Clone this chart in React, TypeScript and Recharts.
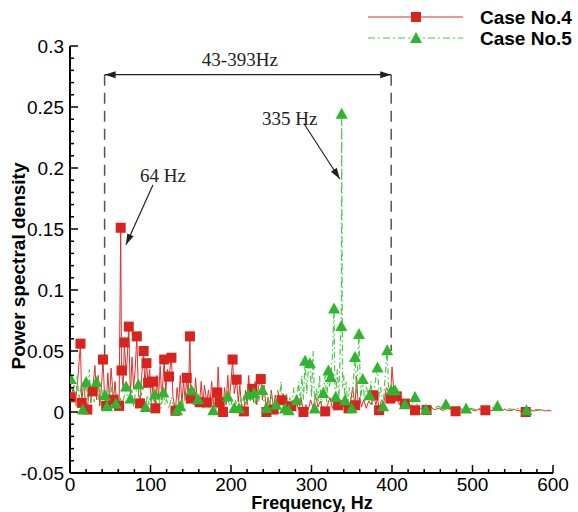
import React from 'react';
import { ComposedChart, Line, XAxis, YAxis, ReferenceLine, ReferenceDot } from 'recharts';

// Case No.4 spectrum (Hz, PSD)
const case4Freq = [
  1, 4, 7, 10, 13, 14.5, 17, 19, 21.5, 24, 26, 28, 31, 33, 35, 37, 39, 41, 43, 45,
  47, 49, 51, 54, 56, 58, 61, 63, 64, 66, 67.5, 70, 73, 75, 77, 79, 81, 83, 85, 87,
  89, 91.5, 93, 95, 97, 99, 101, 103.5, 106, 108, 110, 112, 114, 117, 119, 121, 123, 126, 128, 131,
  133, 135, 137, 139, 141, 143, 145, 147, 149, 150, 152, 154, 156, 158, 161, 163, 165, 167, 170, 172,
  174, 176, 178, 180, 183, 184, 186, 188, 190, 192, 194, 196, 198, 200, 202, 204, 207, 209, 211, 213,
  216, 218, 220, 222, 224, 226.5, 228, 230, 232, 234, 237, 239, 241, 244, 246, 248, 250, 253, 255, 257,
  259, 261, 263, 265, 267, 269, 271, 275, 277, 279, 281, 284, 287, 290, 293, 296, 299, 302, 305, 308,
  311, 314, 317, 320, 323, 326, 329, 333, 336, 339, 342, 346, 349, 351, 354, 356, 358, 360, 362, 365,
  368, 371, 374, 377, 380, 382, 384, 387, 390, 393, 395, 398, 400, 403, 406, 409, 412, 416, 420, 424,
  428.6, 433, 438, 443, 448, 453, 458, 463, 468, 474, 479, 485, 490, 496, 502, 508, 516, 522, 528, 534,
  540, 546, 552, 558, 566, 572, 578, 584, 590, 598,
];
const case4Psd = [
  0.012, 0.02, 0.008, 0.03, 0.056, 0.0075, 0.025, 0.01, 0.002, 0.02, 0.008, 0.017, 0.038, 0.01, 0.03, 0.005, 0.02, 0.043, 0.012, 0.005,
  0.032, 0.01, 0.036, 0.01, 0.025, 0.004, 0.005, 0.151, 0.034, 0.02, 0.057, 0.03, 0.07, 0.012, 0.045, 0.02, 0.035, 0.062, 0.015, 0.007,
  0.03, 0.05, 0.02, 0.04, 0.024, 0.035, 0.008, 0.025, 0.003, 0.03, 0.012, 0.038, 0.01, 0.043, 0.015, 0.035, 0.029, 0.0445, 0.012, 0.001,
  0.02, 0.008, 0.03, 0.006, 0.025, 0.01, 0.028, 0.012, 0.062, 0.011, 0.02, 0.006, 0.028, 0.01, 0.008, 0.025, 0.005, 0.022, 0.0078, 0.018,
  0.006, 0.025, 0.004, 0.02, 0.016, 0.037, 0.008, 0.015, 0.0, 0.02, 0.006, 0.03, 0.01, 0.025, 0.043, 0.015, 0.0265, 0.008, 0.022, 0.005,
  0.0005, 0.018, 0.006, 0.03, 0.01, 0.019, 0.008, 0.025, 0.006, 0.02, 0.027, 0.01, 0.022, 0.0, 0.012, 0.004, 0.018, 0.002, 0.014, 0.004,
  0.016, 0.006, 0.0096, 0.015, 0.003, 0.012, 0.005, 0.0047, 0.01, 0.003, 0.008, 0.002, 0.012, 0.0, 0.006, 0.002, 0.01, 0.003, 0.014, 0.004,
  0.009, 0.002, 0.0005, 0.006, 0.012, 0.003, 0.008, 0.0055, 0.01, 0.004, 0.008, 0.003, 0.01, 0.02, 0.0055, 0.029, 0.006, 0.012, 0.004, 0.01,
  0.003, 0.009, 0.006, 0.0137, 0.006, 0.012, 0.0015, 0.01, 0.008, 0.02, 0.018, 0.011, 0.037, 0.01, 0.0128, 0.006, 0.01, 0.0069, 0.004, 0.006,
  0.0014, 0.004, 0.002, 0.0016, 0.004, 0.002, 0.003, 0.001, 0.003, 0.002, 0.0006, 0.002, 0.001, 0.003, 0.001, 0.002, 0.0014, 0.001, 0.002, 0.001,
  0.002, 0.001, 0.002, 0.001, 0.0, 0.001, 0.001, 0.002, 0.001, 0.001,
];
const case4Markers = [
  1, 13, 14.5, 21.5, 28, 41, 45, 54, 61, 63, 64, 67.5, 73, 83, 87, 91.5, 95, 97, 103.5, 106,
  117, 123, 126, 131, 145, 149, 150, 161, 170, 183, 186, 190, 202, 207, 216, 226.5, 237, 244, 253, 263,
  275, 290, 317, 333, 346, 354, 377, 384, 398, 406, 416, 428.6, 443, 479, 516, 566,
];

// Case No.5 spectrum (Hz, PSD)
const case5Freq = [
  1, 3, 5, 7, 9, 11, 13, 16, 18, 20, 22, 24, 26, 28, 30, 33, 35, 37, 39, 41,
  43.5, 46, 48, 50, 52, 54, 57, 59, 61, 63, 66, 69.6, 72, 75, 77, 79, 81, 85, 87, 89,
  91, 94, 96, 98, 100, 102, 105.6, 108, 110, 113, 116, 118, 120, 123, 126, 129, 133, 135, 137, 139,
  141, 143, 145, 147, 151, 153, 155, 159, 161, 163, 165, 167, 169, 171, 173, 175, 178, 180, 182, 184,
  186, 188, 190, 192, 196, 198, 200, 202, 204, 206, 208, 210, 212, 214, 216, 218, 221.5, 224, 226, 228.6,
  230, 232, 234, 236, 239, 241, 244, 246, 248, 250, 252, 256, 258, 260, 262, 264, 267, 269, 271.6, 273,
  275, 278, 281.6, 284, 286, 288, 290, 292, 294, 296, 298, 300, 302, 304, 306, 308, 310, 312, 314.6, 317,
  319, 321, 322, 324, 326, 328, 329, 330, 332, 334, 336, 337, 337.5, 338.5, 340, 341.6, 343, 345, 347, 350,
  352, 354, 356, 359, 361, 363.6, 366, 368, 372, 374, 376, 378, 382, 384, 386, 389, 391, 394, 396, 399,
  401, 403.7, 406, 409, 412, 416, 420, 424, 428.6, 432, 437, 442, 447, 452, 457, 462, 467, 472, 477, 482,
  487, 492, 498, 504, 510, 516, 522, 531, 537, 543, 549, 555, 561, 567, 573, 580, 587, 595,
];
const case5Psd = [
  0.027, 0.012, 0.022, 0.004, 0.03, 0.01, 0.02, 0.002, 0.015, 0.0246, 0.01, 0.035, 0.006, 0.02, 0.008, 0.0246, 0.01, 0.02, 0.006, 0.018,
  0.0137, 0.0047, 0.018, 0.005, 0.022, 0.008, 0.0069, 0.015, 0.004, 0.012, 0.008, 0.021, 0.008, 0.011, 0.018, 0.004, 0.015, 0.0225, 0.008, 0.016,
  0.003, 0.004, 0.014, 0.006, 0.012, 0.004, 0.0143, 0.006, 0.012, 0.003, 0.016, 0.006, 0.01, 0.003, 0.012, 0.004, 0.0014, 0.01, 0.0047, 0.012,
  0.005, 0.014, 0.006, 0.01, 0.0178, 0.008, 0.014, 0.0104, 0.004, 0.012, 0.003, 0.01, 0.004, 0.012, 0.003, 0.008, 0.0014, 0.009, 0.003, 0.012,
  0.005, 0.01, 0.004, 0.015, 0.0128, 0.005, 0.01, 0.003, 0.0032, 0.01, 0.004, 0.003, 0.012, 0.005, 0.014, 0.006, 0.0143, 0.008, 0.02, 0.0156,
  0.006, 0.018, 0.008, 0.015, 0.018, 0.008, 0.0032, 0.012, 0.004, 0.016, 0.006, 0.006, 0.018, 0.007, 0.025, 0.005, 0.0028, 0.015, 0.0014, 0.012,
  0.004, 0.02, 0.0096, 0.025, 0.006, 0.03, 0.01, 0.042, 0.015, 0.035, 0.04, 0.012, 0.05, 0.0028, 0.02, 0.008, 0.03, 0.006, 0.0156, 0.03,
  0.008, 0.034, 0.02, 0.0287, 0.045, 0.0848, 0.02, 0.0123, 0.035, 0.01, 0.06, 0.0705, 0.2445, 0.02, 0.03, 0.0096, 0.025, 0.006, 0.02, 0.003,
  0.025, 0.045, 0.015, 0.064, 0.01, 0.027, 0.008, 0.02, 0.0137, 0.025, 0.006, 0.02, 0.0364, 0.012, 0.02, 0.0047, 0.025, 0.0506, 0.015, 0.0178,
  0.01, 0.0178, 0.008, 0.012, 0.004, 0.0063, 0.008, 0.004, 0.0123, 0.004, 0.006, 0.002, 0.004, 0.002, 0.005, 0.003, 0.0063, 0.003, 0.002, 0.004,
  0.002, 0.0028, 0.003, 0.002, 0.003, 0.002, 0.003, 0.0049, 0.002, 0.003, 0.002, 0.003, 0.002, 0.0014, 0.002, 0.002, 0.001, 0.002,
];
const case5Markers = [
  1, 16, 20, 33, 43.5, 46, 57, 69.6, 75, 85, 94, 105.6, 116, 133, 137, 151, 159, 178, 196, 204,
  210, 221.5, 228.6, 239, 244, 256, 267, 271.6, 281.6, 292, 298, 304, 314.6, 321, 324, 328, 330, 337, 337.5, 341.6,
  350, 354, 359, 363.6, 372, 382, 389, 394, 399, 403.7, 416, 428.6, 442, 467, 492, 531, 567,
];

const xTicks = [
  0, 20, 40, 60, 80, 100, 120, 140, 160, 180, 200, 220, 240, 260, 280, 300,
  320, 340, 360, 380, 400, 420, 440, 460, 480, 500, 520, 540, 560, 580, 600,
];
const yTicks = [
  -0.05, -0.04, -0.03, -0.02, -0.01, 0, 0.01, 0.02, 0.03, 0.04, 0.05, 0.06, 0.07, 0.08, 0.09, 0.1,
  0.11, 0.12, 0.13, 0.14, 0.15, 0.16, 0.17, 0.18, 0.19, 0.2, 0.21, 0.22, 0.23, 0.24, 0.25,
  0.26, 0.27, 0.28, 0.29, 0.3,
];

const case4 = case4Freq.map((f, i) => ({ f, v: case4Psd[i], m: case4Markers.includes(f) }));
const case5 = case5Freq.map((f, i) => ({ f, v: case5Psd[i], m: case5Markers.includes(f) }));

const W = 578;
const H = 512;
const PLOT_LEFT = 70;
const PLOT_BOTTOM = 473;
const SANS = 'Liberation Sans, Arial, sans-serif';
const SERIF = 'Liberation Serif, Times New Roman, serif';
const RED = '#e0302a';
const RED_MARK = '#d8231f';
const GREEN = '#4cc84c';
const GREEN_MARK = '#2fb52f';

const XTick = (props: any) => {
  const { x, payload } = props;
  const major = payload.value % 100 === 0;
  return (
    <g>
      <line x1={x} x2={x} y1={PLOT_BOTTOM} y2={PLOT_BOTTOM - (major ? 8 : 4)} stroke="#000" strokeWidth={1.5} />
      {major && (
        <text x={x} y={491} textAnchor="middle" fontSize={19} fontFamily={SANS} fill="#000">
          {payload.value}
        </text>
      )}
    </g>
  );
};

const YTick = (props: any) => {
  const { y, payload } = props;
  const major = Math.round(payload.value * 100) % 5 === 0;
  return (
    <g>
      <line x1={PLOT_LEFT} x2={PLOT_LEFT + (major ? 8 : 4)} y1={y} y2={y} stroke="#000" strokeWidth={1.5} />
      {major && (
        <text x={64} y={y} dy="0.35em" textAnchor="end" fontSize={19} fontFamily={SANS} fill="#000">
          {payload.value}
        </text>
      )}
    </g>
  );
};

const square = (p: any) => {
  if (!p.payload.m) return <g key={`s${p.index}`} />;
  return <rect key={`s${p.index}`} x={p.cx - 5} y={p.cy - 5} width={10} height={10} fill={RED_MARK} />;
};

const triangle = (p: any) => {
  if (!p.payload.m) return <g key={`t${p.index}`} />;
  const { cx, cy } = p;
  return (
    <polygon
      key={`t${p.index}`}
      points={`${cx},${cy - 6} ${cx - 6},${cy + 5} ${cx + 6},${cy + 5}`}
      fill={GREEN_MARK}
    />
  );
};

const head = (x: number, y: number, dx: number, dy: number) => {
  const len = Math.hypot(dx, dy) || 1;
  const ux = dx / len;
  const uy = dy / len;
  const bx = x - ux * 11;
  const by = y - uy * 11;
  return `${x},${y} ${bx - uy * 3.5},${by + ux * 3.5} ${bx + uy * 3.5},${by - ux * 3.5}`;
};

const arrow = (both: boolean) => (p: any) => {
  const { x1, y1, x2, y2 } = p;
  return (
    <g>
      <line x1={x1} y1={y1} x2={x2} y2={y2} stroke="#222" strokeWidth={1.2} />
      <polygon points={head(x2, y2, x2 - x1, y2 - y1)} fill="#222" />
      {both && <polygon points={head(x1, y1, x1 - x2, y1 - y2)} fill="#222" />}
    </g>
  );
};

const label = (text: string) => (p: any) => (
  <text x={p.cx} y={p.cy} dy="0.35em" textAnchor="middle" fontSize={19} fontFamily={SERIF} fill="#222">
    {text}
  </text>
);

const Legend = () => (
  <svg width={W} height={60} style={{ position: 'absolute', left: 0, top: 0 }}>
    <line x1={368} x2={463} y1={17} y2={17} stroke={RED} strokeWidth={1.2} />
    <rect x={411} y={12} width={10} height={10} fill={RED_MARK} />
    <text x={480} y={17} dy="0.35em" fontSize={19} fontWeight="bold" fontFamily={SANS}>Case No.4</text>
    <line x1={368} x2={463} y1={38} y2={38} stroke={GREEN} strokeWidth={1.2} strokeDasharray="7 3 2 3" />
    <polygon points="416,32 410,43 422,43" fill={GREEN_MARK} />
    <text x={480} y={38} dy="0.35em" fontSize={19} fontWeight="bold" fontFamily={SANS}>Case No.5</text>
  </svg>
);

export default function App() {
  return (
    <div style={{ position: 'absolute', left: 0, top: 0, width: W, height: H, background: '#fff' }}>
      <ComposedChart width={W} height={H} margin={{ top: 46, right: 25, bottom: 0, left: 0 }}>
        <XAxis
          type="number"
          dataKey="f"
          domain={[0, 600]}
          ticks={xTicks}
          interval={0}
          height={39}
          tickLine={false}
          axisLine={{ stroke: '#000', strokeWidth: 2 }}
          tick={<XTick />}
          allowDataOverflow
        />
        <YAxis
          type="number"
          domain={[-0.05, 0.3]}
          ticks={yTicks}
          interval={0}
          width={70}
          tickLine={false}
          axisLine={{ stroke: '#000', strokeWidth: 2 }}
          tick={<YTick />}
          allowDataOverflow
        />
        <ReferenceLine
          segment={[{ x: 43, y: 0.2765 }, { x: 43, y: 0.045 }]}
          stroke="#555"
          strokeWidth={1.5}
          strokeDasharray="11 7"
        />
        <ReferenceLine
          segment={[{ x: 399, y: 0.2765 }, { x: 399, y: 0.05 }]}
          stroke="#555"
          strokeWidth={1.5}
          strokeDasharray="11 7"
        />
        <Line
          data={case4}
          dataKey="v"
          type="linear"
          stroke={RED}
          strokeWidth={1}
          dot={square}
          activeDot={false}
          isAnimationActive={false}
        />
        <Line
          data={case5}
          dataKey="v"
          type="linear"
          stroke={GREEN}
          strokeWidth={1.2}
          strokeDasharray="6 3 1.5 3"
          dot={triangle}
          activeDot={false}
          isAnimationActive={false}
        />
        <ReferenceLine segment={[{ x: 43, y: 0.2765 }, { x: 399, y: 0.2765 }]} shape={arrow(true)} />
        <ReferenceLine segment={[{ x: 103, y: 0.186 }, { x: 69.5, y: 0.137 }]} shape={arrow(false)} />
        <ReferenceLine segment={[{ x: 290.5, y: 0.2365 }, { x: 335.2, y: 0.191 }]} shape={arrow(false)} />
        <ReferenceDot x={211} y={0.289} shape={label('43-393Hz')} />
        <ReferenceDot x={115.5} y={0.194} shape={label('64 Hz')} />
        <ReferenceDot x={273} y={0.241} shape={label('335 Hz')} />
      </ComposedChart>
      <Legend />
      <svg width={W} height={H} style={{ position: 'absolute', left: 0, top: 0, pointerEvents: 'none' }}>
        <text x={312} y={509} textAnchor="middle" fontSize={18} fontWeight="bold" fontFamily={SANS}>
          Frequency, Hz
        </text>
        <text
          x={0}
          y={0}
          transform="translate(25,266) rotate(-90)"
          textAnchor="middle"
          fontSize={19}
          fontWeight="bold"
          fontFamily={SANS}
        >
          Power spectral density
        </text>
      </svg>
    </div>
  );
}
